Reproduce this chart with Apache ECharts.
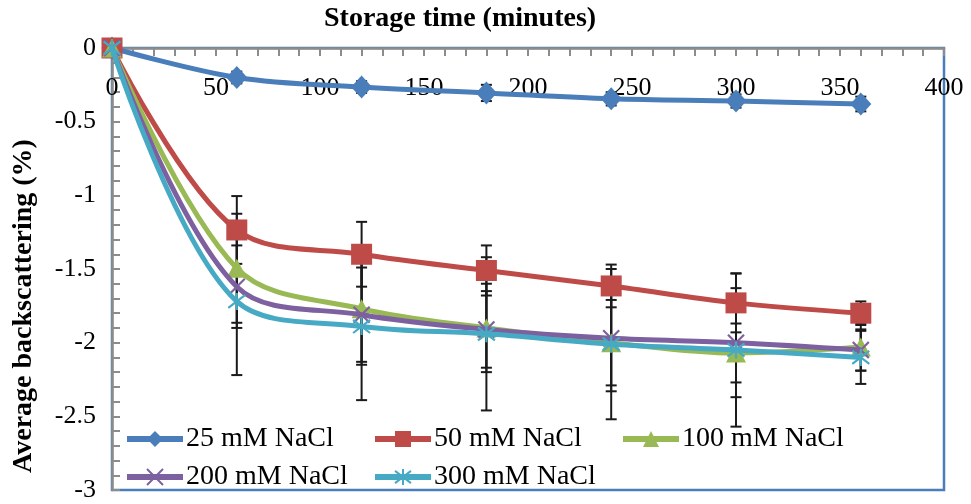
<!DOCTYPE html>
<html>
<head>
<meta charset="utf-8">
<script src="https://cdn.jsdelivr.net/npm/echarts@6/dist/echarts.min.js"></script>
<style>html,body{margin:0;padding:0;background:#fff;}#c{width:971px;height:504px;}</style>
</head>
<body>
<div id="c"></div>
<script>
var times = [0, 60, 120, 180, 240, 300, 360];
var names = ['25 mM NaCl', '50 mM NaCl', '100 mM NaCl', '200 mM NaCl', '300 mM NaCl'];
var v25  = [0, -0.20, -0.265, -0.305, -0.345, -0.36, -0.38];
var v50  = [0, -1.235, -1.40, -1.51, -1.615, -1.73, -1.80];
var v100 = [0, -1.495, -1.77, -1.90, -2.00, -2.07, -2.03];
var v200 = [0, -1.62, -1.81, -1.91, -1.97, -2.00, -2.05];
var v300 = [0, -1.72, -1.89, -1.94, -2.01, -2.05, -2.10];
var e25  = [0, 0.04, 0.04, 0.055, 0.045, 0.045, 0.05];
var e50  = [0, 0.23, 0.22, 0.17, 0.145, 0.20, 0.08];
var e100 = [0, 0.37, 0.38, 0.30, 0.29, 0.20, 0.16];
var e200 = [0, 0.28, 0.32, 0.26, 0.36, 0.37, 0.14];
var e300 = [0, 0.50, 0.50, 0.52, 0.51, 0.52, 0.18];
var yTicks = ['0', '-0.5', '-1', '-1.5', '-2', '-2.5', '-3'];

var colors = ['#4a7ebb', '#be4b48', '#98b954', '#7d60a0', '#46aac5'];
var vals = [v25, v50, v100, v200, v300];
var errs = [e25, e50, e100, e200, e300];
var symbols = ['diamond', 'rect', 'triangle',
  'path://M0,0L10,10M10,0L0,10',
  'path://M0,0L10,10M10,0L0,10M5,-1.5L5,11.5'];
var symSizes = [[21, 23], 21, [20, 19], 16, 17];
var FONT = 'Liberation Serif';

var series = [];
// error bars
vals.forEach(function (v, i) {
  series.push({
    type: 'custom',
    z: 1,
    silent: true,
    data: times.map(function (t, j) { return [t, v[j] - errs[i][j], v[j] + errs[i][j]]; }),
    renderItem: function (params, api) {
      var lo = api.coord([api.value(0), api.value(1)]);
      var hi = api.coord([api.value(0), api.value(2)]);
      if (Math.abs(lo[1] - hi[1]) < 1) return null;
      var w = 5.5;
      var st = { stroke: '#1a1a1a', lineWidth: 2 };
      return { type: 'group', children: [
        { type: 'line', shape: { x1: lo[0], y1: lo[1], x2: hi[0], y2: hi[1] }, style: st },
        { type: 'line', shape: { x1: lo[0] - w, y1: lo[1], x2: lo[0] + w, y2: lo[1] }, style: st },
        { type: 'line', shape: { x1: hi[0] - w, y1: hi[1], x2: hi[0] + w, y2: hi[1] }, style: st }
      ]};
    }
  });
});
vals.forEach(function (v, i) {
  var stroked = i >= 3;
  series.push({
    name: names[i],
    type: 'line',
    z: 3 + i,
    smooth: 0.35,
    data: times.map(function (t, j) { return [t, v[j]]; }),
    symbol: symbols[i],
    symbolSize: symSizes[i],
    showAllSymbol: true,
    lineStyle: { color: colors[i], width: 5 },
    itemStyle: stroked ? { color: colors[i], borderColor: colors[i], borderWidth: 2.2 } : { color: colors[i], borderWidth: 0 },
    emphasis: { disabled: true }
  });
});

var legendPos = [[124, 424], [372, 424], [620, 424], [124, 461], [372, 461]];
var legends = names.map(function (n, i) {
  return {
    data: [n], left: legendPos[i][0], top: legendPos[i][1] + (i >= 3 ? 2 : 1), padding: 0,
    itemWidth: 56, itemHeight: 20, itemGap: 0,
    lineStyle: { width: 6 },
    textStyle: { fontFamily: FONT, fontSize: 28, color: '#000', padding: [0, 0, 0, -2] },
    selectedMode: false
  };
});

var chart = echarts.init(document.getElementById('c'));
chart.setOption({
  animation: false,
  backgroundColor: '#fff',
  title: { text: 'Storage time (minutes)', left: 319, top: 0,
    textStyle: { fontFamily: FONT, fontSize: 28, fontWeight: 'bold', color: '#000' } },
  graphic: [{ type: 'text', x: 24, y: 306, rotation: Math.PI / 2,
    style: { text: 'Average backscattering (%)', fontFamily: FONT, fontSize: 28, fontWeight: 'bold',
      fill: '#000', align: 'center', verticalAlign: 'middle' } }],
  legend: legends,
  grid: { left: 112, right: 27, top: 48, bottom: 14, show: true, borderColor: '#4a7ebb', borderWidth: 2.5, backgroundColor: 'transparent' },
  xAxis: {
    type: 'value', min: 0, max: 400, interval: 50, position: 'top',
    axisLine: { onZero: false, lineStyle: { color: '#8c8c8c', width: 2.5 } },
    axisTick: { show: true, inside: true, length: 8, lineStyle: { color: '#8c8c8c', width: 2 } },
    minorTick: { show: true, splitNumber: 5, length: 8, lineStyle: { color: '#8c8c8c', width: 2 } },
    splitLine: { show: false },
    axisLabel: { inside: true, margin: 27, fontFamily: FONT, fontSize: 26, color: '#000', showMinLabel: true, showMaxLabel: true, hideOverlap: false }
  },
  yAxis: {
    type: 'value', min: -3, max: 0, interval: 0.5,
    axisLine: { show: true, onZero: false, lineStyle: { color: '#8c8c8c', width: 2.5 } },
    axisTick: { show: true, inside: true, length: 8, lineStyle: { color: '#8c8c8c', width: 2 } },
    minorTick: { show: true, splitNumber: 5, length: 8, lineStyle: { color: '#8c8c8c', width: 2 } },
    splitLine: { show: false },
    axisLabel: { margin: 16, fontFamily: FONT, fontSize: 26, color: '#000',
      formatter: function (val) { var k = Math.round(-val * 2); return yTicks[k]; } }
  },
  series: series
});
</script>
</body>
</html>
